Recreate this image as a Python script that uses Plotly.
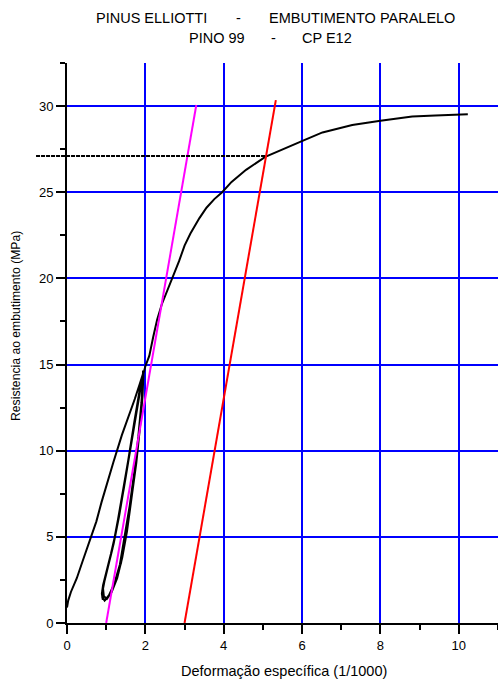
import plotly.graph_objects as go

# ---------------- data ----------------
# virgin loading branch
load1_x = [0.0, 0.03, 0.10, 0.16, 0.25, 0.40, 0.59, 0.75, 0.88, 1.03, 1.18, 1.40, 1.58, 1.73, 1.86, 1.96]
load1_y = [0.9, 1.3, 1.8, 2.1, 2.6, 3.6, 4.8, 5.9, 7.0, 8.2, 9.3, 10.9, 12.0, 13.0, 13.9, 14.6]
# unloading / reloading cycles
unloadA_x = [1.94, 1.92, 1.84, 1.74, 1.62, 1.50, 1.38, 1.24, 1.10, 0.98, 0.91]
unloadA_y = [14.6, 13.0, 11.0, 9.0, 7.0, 5.0, 3.5, 2.4, 1.7, 1.35, 1.4]
reloadA_x = [0.89, 0.92, 1.00, 1.12, 1.24, 1.40, 1.56, 1.72, 1.86, 1.94]
reloadA_y = [1.7, 2.2, 2.9, 4.0, 5.2, 7.2, 9.4, 11.7, 13.6, 14.4]
unloadB_x = [1.94, 1.90, 1.82, 1.72, 1.60, 1.47, 1.35, 1.21, 1.07, 0.96, 0.90]
unloadB_y = [14.4, 12.8, 10.8, 8.8, 6.8, 4.9, 3.4, 2.3, 1.6, 1.3, 1.5]
reloadB_x = [0.90, 0.95, 1.04, 1.16, 1.30, 1.45, 1.61, 1.77, 1.90, 1.95]
reloadB_y = [1.9, 2.4, 3.2, 4.3, 5.9, 7.8, 10.0, 12.3, 14.0, 14.5]
unloadC_x = [1.95, 1.93, 1.86, 1.77, 1.65, 1.53, 1.41, 1.28, 1.14, 1.02, 0.94]
unloadC_y = [14.5, 13.2, 11.3, 9.3, 7.3, 5.3, 3.8, 2.6, 1.8, 1.4, 1.55]
reloadC_x = [0.92, 0.97, 1.07, 1.19, 1.33, 1.48, 1.64, 1.80, 1.92]
reloadC_y = [2.0, 2.6, 3.5, 4.6, 6.2, 8.2, 10.4, 12.6, 14.2]
# final loading to failure
load2_x = [2.00, 2.10, 2.20, 2.30, 2.42, 2.56, 2.71, 2.86, 3.00, 3.15, 3.38, 3.56, 3.76, 3.96,
           4.20, 4.57, 5.06, 5.50, 6.01, 6.52, 7.28, 8.00, 8.81, 9.40, 10.00, 10.23]
load2_y = [14.9, 15.5, 16.6, 17.6, 18.5, 19.3, 20.1, 21.0, 21.9, 22.6, 23.5, 24.1, 24.6, 25.0,
           25.6, 26.3, 27.05, 27.5, 27.98, 28.47, 28.9, 29.15, 29.4, 29.45, 29.5, 29.52]

# elastic line and 0.2% offset line
elastic_x = [1.0, 3.30]
elastic_y = [0.0, 30.06]
offset_x = [3.0, 5.33]
offset_y = [0.0, 30.35]

# strength read at intersection
fy_value = 27.1
fy_line_x = [-0.79, 5.08]

x_range = [0, 11]
y_range = [0, 32.5]
x_ticks = [0, 2, 4, 6, 8, 10]
y_ticks = [0, 5, 10, 15, 20, 25, 30]

x_title = "Deformação específica (1/1000)"
y_title = "Resistencia ao embutimento (MPa)"

curve_x = (load1_x + unloadA_x + reloadA_x + unloadB_x + reloadB_x
           + unloadC_x + reloadC_x + load2_x)
curve_y = (load1_y + unloadA_y + reloadA_y + unloadB_y + reloadB_y
           + unloadC_y + reloadC_y + load2_y)

FONT = "Liberation Sans, Arial, sans-serif"

fig = go.Figure()
fig.add_trace(go.Scatter(x=curve_x, y=curve_y, mode="lines",
                         line=dict(color="black", width=2), showlegend=False))
fig.add_trace(go.Scatter(x=elastic_x, y=elastic_y, mode="lines",
                         line=dict(color="#ff00ff", width=2), showlegend=False))
fig.add_trace(go.Scatter(x=offset_x, y=offset_y, mode="lines",
                         line=dict(color="#ff0000", width=2), showlegend=False))

def xp(v):
    return (v - x_range[0]) / (x_range[1] - x_range[0])

def yp(v):
    return (v - y_range[0]) / (y_range[1] - y_range[0])

# dashed horizontal line (extends left of the y axis) -> paper coordinates
fig.add_shape(type="line", xref="paper", yref="paper",
              x0=xp(fy_line_x[0]), x1=xp(fy_line_x[1]),
              y0=yp(fy_value), y1=yp(fy_value),
              line=dict(color="black", width=2, dash="4px,1px"))

W, H = 498, 679
L, R, T, B = 67, 0, 63, 56
PW, PH = W - L - R, H - T - B

def px2paper(px, py):
    return (px - L) / PW, (H - B - py) / PH

title_parts = [
    ("PINUS ELLIOTTI", 95.5, 18.0),
    ("-", 235.5, 18.0),
    ("EMBUTIMENTO PARALELO", 269, 18.0),
    ("PINO 99", 189, 38.0),
    ("-", 270.5, 38.0),
    ("CP E12", 301.5, 38.0),
]
for txt, px, py in title_parts:
    ax_, ay_ = px2paper(px, py)
    fig.add_annotation(text=txt, xref="paper", yref="paper", x=ax_, y=ay_,
                       xanchor="left", yanchor="middle", showarrow=False,
                       borderpad=0, borderwidth=0,
                       font=dict(family=FONT, size=14.5, color="black"))

# axis titles
ax_, ay_ = px2paper(284, 671)
fig.add_annotation(text=x_title, xref="paper", yref="paper", x=ax_, y=ay_,
                   xanchor="center", yanchor="middle", showarrow=False,
                   borderpad=0, borderwidth=0,
                   font=dict(family=FONT, size=14.5, color="black"))
ax_, ay_ = px2paper(16, 326)
fig.add_annotation(text=y_title, xref="paper", yref="paper", x=ax_, y=ay_,
                   xanchor="center", yanchor="middle", textangle=-90, showarrow=False,
                   borderpad=0, borderwidth=0,
                   font=dict(family=FONT, size=12.2, color="black"))

axis_common = dict(
    showline=True, linecolor="black", linewidth=2,
    showgrid=True, gridcolor="#0000ff", gridwidth=2,
    zeroline=False, ticks="outside", ticklen=9, tickwidth=2, tickcolor="black",
    tickfont=dict(family=FONT, size=13, color="black"),
    mirror=False,
)

fig.update_xaxes(range=x_range, tickvals=x_ticks,
                 minor=dict(dtick=1, tick0=0, ticks="outside", ticklen=5, tickwidth=2,
                            tickcolor="black", showgrid=False),
                 **axis_common)
fig.update_yaxes(range=y_range, tickvals=y_ticks,
                 minor=dict(dtick=2.5, tick0=0, ticks="outside", ticklen=5, tickwidth=2,
                            tickcolor="black", showgrid=False),
                 **axis_common)

fig.update_layout(
    width=W, height=H,
    margin=dict(l=L, r=R, t=T, b=B, autoexpand=False),
    paper_bgcolor="white", plot_bgcolor="white",
    font=dict(family=FONT, size=13, color="black"),
    showlegend=False,
)

fig.write_html("out.html",
               config={"displayModeBar": False, "staticPlot": True},
               post_script="document.body.style.margin='0';document.body.style.overflow='hidden';")
